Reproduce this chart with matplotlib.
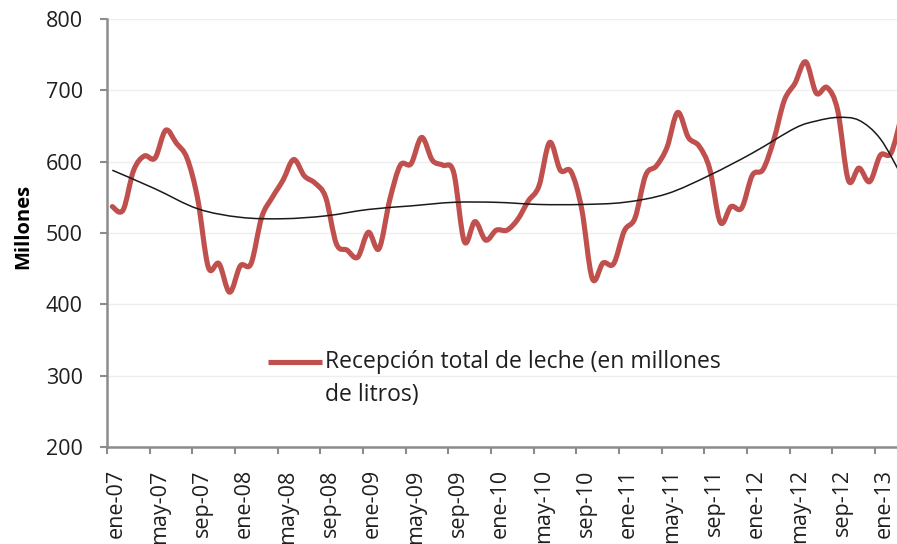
"""Recepción total de leche, ene-07 a mar-13, con línea de tendencia."""

import matplotlib

matplotlib.use("Agg")
import matplotlib.pyplot as plt
from matplotlib.path import Path
from matplotlib.patches import PathPatch

# monthly values, millones de litros (ene-07 .. mar-13)
reception = [
    537, 532, 588, 608, 605, 644, 626, 605, 548, 452, 457, 417,  # 2007
    454, 457, 522, 550, 574, 603, 580, 570, 550, 485, 476, 466,  # 2008
    501, 478, 546, 595, 597, 634, 602, 595, 585, 488, 516, 490,  # 2009
    504, 504, 519, 545, 566, 627, 588, 586, 534, 436, 458, 457,  # 2010
    503, 521, 581, 594, 620, 669, 634, 622, 590, 515, 537, 535,  # 2011
    581, 589, 630, 686, 710, 740, 696, 704, 672, 574, 591, 572,  # 2012
    609, 612, 665,                                               # 2013
]
months = list(range(len(reception)))

# polynomial trend line (month index -> value)
trend_months = [0, 4, 8, 12, 16, 20, 24, 28, 32, 36, 40, 44, 48, 52, 56,
                60, 64, 66, 68, 70, 72, 74]
trend_values = [588, 562, 534, 522, 520, 524, 533, 538, 543, 543, 540, 540,
                543, 555, 581, 612, 647, 657, 662, 658, 632, 580]

tick_labels = [
    "ene-07", "may-07", "sep-07", "ene-08", "may-08", "sep-08", "ene-09",
    "may-09", "sep-09", "ene-10", "may-10", "sep-10", "ene-11", "may-11",
    "sep-11", "ene-12", "may-12", "sep-12", "ene-13",
]
yticks = [200, 300, 400, 500, 600, 700, 800]

legend_label = ["Recepción total de leche (en millones", "de litros)"]

RED = "#C0504D"
AXIS_GRAY = "#8C8C8C"
TEXT = "#1F1F1F"


def smooth_path(xs, ys):
    """Excel-like smoothed line: Catmull-Rom segments as cubic Beziers."""
    pts = list(zip(xs, ys))
    verts = [pts[0]]
    codes = [Path.MOVETO]
    n = len(pts)
    for i in range(n - 1):
        p0 = pts[max(i - 1, 0)]
        p1 = pts[i]
        p2 = pts[i + 1]
        p3 = pts[min(i + 2, n - 1)]
        c1 = (p1[0] + (p2[0] - p0[0]) / 6, p1[1] + (p2[1] - p0[1]) / 6)
        c2 = (p2[0] - (p3[0] - p1[0]) / 6, p2[1] - (p3[1] - p1[1]) / 6)
        verts += [c1, c2, p2]
        codes += [Path.CURVE4] * 3
    return Path(verts, codes)


plt.rcParams["font.family"] = ["Open Sans", "DejaVu Sans"]

W, H = 897, 544
fig = plt.figure(figsize=(W / 100, H / 100), dpi=100)
fig.patch.set_facecolor("white")
ax_left, ax_right, ax_top, ax_bottom = 107, 897, 19, 447
ax = fig.add_axes([ax_left / W, 1 - ax_bottom / H,
                   (ax_right - ax_left) / W, (ax_bottom - ax_top) / H])

month_px = 768 / 72
ax.set_xlim(-0.5, -0.5 + (ax_right - ax_left) / month_px)
ax.set_ylim(200, 800)

ax.add_patch(PathPatch(smooth_path(months, reception), fill=False,
                       edgecolor=RED, linewidth=3.7, capstyle="round",
                       joinstyle="round", zorder=3))
ax.add_patch(PathPatch(smooth_path(trend_months, trend_values), fill=False,
                       edgecolor="#1a1a1a", linewidth=1.1, zorder=4))

# axes styling
for side in ("top", "right"):
    ax.spines[side].set_visible(False)
for side in ("left", "bottom"):
    ax.spines[side].set_color(AXIS_GRAY)
    ax.spines[side].set_linewidth(1.8)

ax.set_yticks(yticks)
ax.tick_params(axis="y", direction="out", length=5, width=1.5,
               color=AXIS_GRAY, pad=12.5, labelsize=15.5, labelcolor=TEXT)
ax.grid(axis="y", color="#EEEEEE", linewidth=1.0, zorder=0)

# tick marks between categories, labels a bit to the right
ax.set_xticks([-0.5 + 4 * k for k in range(len(tick_labels))])
ax.set_xticklabels([])
ax.tick_params(axis="x", which="major", direction="out", length=5,
               width=1.5, color=AXIS_GRAY)
ax.set_xticks([4 * k + 0.4 for k in range(len(tick_labels))], minor=True)
ax.set_xticklabels(tick_labels, minor=True, rotation=90)
ax.tick_params(axis="x", which="minor", length=0, pad=16, labelsize=15.5,
               labelcolor=TEXT)

ax.set_ylabel("Millones", fontsize=14.5, fontweight="bold", color="black")
ax.yaxis.set_label_coords((33 - ax_left) / (ax_right - ax_left),
                          (ax_bottom - 226) / (ax_bottom - ax_top))

# legend drawn by hand so the key sits on the first text line
def ax_frac(px, py):
    return ((px - ax_left) / (ax_right - ax_left),
            (ax_bottom - py) / (ax_bottom - ax_top))

x0, y0 = ax_frac(268, 362)
x1, _ = ax_frac(322, 362)
ax.plot([x0, x1], [y0, y0], transform=ax.transAxes, color=RED,
        linewidth=3.7, solid_capstyle="butt", clip_on=False, zorder=5)
tx, ty1 = ax_frac(325, 362)
_, ty2 = ax_frac(325, 395)
ax.text(tx, ty1, legend_label[0], transform=ax.transAxes, fontsize=16.5,
        va="center", ha="left", color=TEXT)
ax.text(tx, ty2, legend_label[1], transform=ax.transAxes, fontsize=16.5,
        va="center", ha="left", color=TEXT)

fig.savefig("out.png", dpi=100, facecolor="white")
